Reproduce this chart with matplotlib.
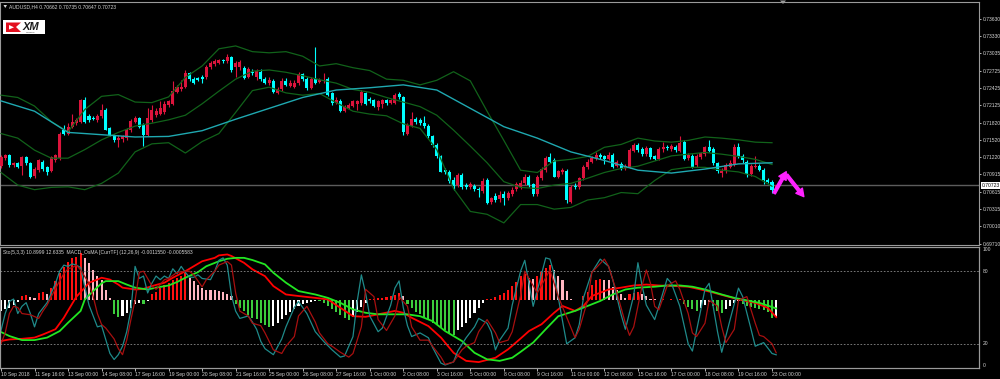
import numpy as np
import matplotlib
matplotlib.use("Agg")
import matplotlib.pyplot as plt
from matplotlib.patches import Rectangle, Polygon, FancyArrowPatch

plt.rcParams['font.family'] = ['Liberation Sans', 'DejaVu Sans']

# ---------------- data ----------------
symbol_title = "AUDUSD,H4 0.70662 0.70735 0.70647 0.70723"
ind_title = "Sto(5,3,3) 10.8999 12.6335  MACD_OsMA [CurrTF] (12,26,9) -0.0011550 -0.0005583"
last_price = 0.70723

opens = [.7106, .7120, .7126, .7108, .7111, .7106, .7122, .7111, .7089, .7099,
         .7113, .7104, .7098, .7117, .7120, .7169, .7162, .7174, .7181, .7184,
         .7222, .7194, .7191, .7187, .7194, .7204, .7172, .7160, .7152, .7153,
         .7155, .7169, .7184, .7190, .7178, .7160, .7187, .7195, .7198, .7201,
         .7213, .7215, .7236, .7240, .7245, .7268, .7258, .7260, .7261, .7261,
         .7279, .7285, .7287, .7292, .7290, .7296, .7280, .7279, .7277, .7262,
         .7271, .7262, .7271, .7258, .7251, .7255, .7234, .7240, .7255, .7246,
         .7245, .7251, .7267, .7258, .7242, .7258, .7253, .7254, .7258, .7233,
         .7217, .7220, .7203, .7208, .7211, .7215, .7216, .7233, .7223, .7222,
         .7210, .7215, .7222, .7217, .7217, .7232, .7226, .7163, .7176, .7188,
         .7187, .7181, .7176, .7158, .7143, .7124, .7099, .7096, .7082, .7073,
         .7091, .7073, .7069, .7071, .7067, .7063, .7082, .7044, .7054, .7048,
         .7058, .7050, .7058, .7066, .7070, .7076, .7088, .7075, .7058, .7085,
         .7099, .7122, .7116, .7088, .7095, .7098, .7044, .7072, .7069, .7085,
         .7104, .7114, .7120, .7126, .7123, .7118, .7126, .7106, .7110, .7102,
         .7105, .7133, .7143, .7136, .7127, .7137, .7123, .7118, .7136, .7139,
         .7136, .7140, .7133, .7148, .7120, .7124, .7108, .7122, .7127, .7140,
         .7136, .7111, .7094, .7097, .7105, .7110, .7139, .7124, .7114, .7092,
         .7104, .7107, .7099, .7082, .7079, .70662]
highs = [.7126, .7128, .7128, .7114, .7114, .7124, .7124, .7114, .7105, .7118,
         .7117, .7106, .7124, .7128, .7166, .7178, .7181, .7197, .7190, .7224,
         .7227, .7197, .7194, .7198, .7215, .7207, .7175, .7163, .7160, .7160,
         .7172, .7188, .7194, .7192, .7181, .7207, .7213, .7207, .7219, .7219,
         .7222, .7254, .7248, .7257, .7274, .7271, .7261, .7262, .7265, .7283,
         .7289, .7293, .7294, .7294, .7302, .7299, .7290, .7292, .7281, .7279,
         .7275, .7275, .7275, .7261, .7261, .7258, .7245, .7260, .7260, .7257,
         .7257, .7271, .7269, .7261, .7261, .7314, .7260, .7268, .7261, .7236,
         .7226, .7223, .7213, .7216, .7222, .7222, .7239, .7236, .7226, .7224,
         .7222, .7224, .7224, .7224, .7233, .7236, .7229, .7181, .7201, .7192,
         .7191, .7194, .7180, .7160, .7146, .7126, .7102, .7099, .7087, .7094,
         .7094, .7076, .7079, .7075, .7070, .7085, .7085, .7053, .7059, .7062,
         .7062, .7063, .7069, .7079, .7082, .7092, .7091, .7077, .7091, .7105,
         .7123, .7129, .7120, .7099, .7102, .7101, .7073, .7076, .7088, .7108,
         .7118, .7124, .7130, .7129, .7126, .7130, .7129, .7117, .7114, .7110,
         .7137, .7146, .7146, .7139, .7141, .7140, .7126, .7139, .7149, .7143,
         .7145, .7143, .7158, .7152, .7129, .7127, .7127, .7131, .7141, .7151,
         .7139, .7114, .7102, .7111, .7116, .7145, .7146, .7127, .7117, .7110,
         .7123, .7110, .7102, .7085, .7082, .70735]
lows = [.7102, .7117, .7105, .7105, .7102, .7091, .7108, .7085, .7085, .7096,
        .7098, .7091, .7095, .7114, .7117, .7160, .7160, .7172, .7178, .7181,
        .7181, .7184, .7186, .7184, .7191, .7169, .7158, .7149, .7140, .7149,
        .7152, .7166, .7181, .7172, .7141, .7158, .7184, .7192, .7195, .7198,
        .7210, .7213, .7233, .7238, .7242, .7255, .7250, .7254, .7252, .7258,
        .7275, .7281, .7285, .7286, .7287, .7271, .7262, .7274, .7258, .7260,
        .7265, .7257, .7255, .7250, .7248, .7233, .7232, .7238, .7246, .7244,
        .7242, .7248, .7255, .7239, .7240, .7250, .7251, .7252, .7229, .7213,
        .7215, .7201, .7201, .7205, .7209, .7204, .7213, .7213, .7216, .7209,
        .7204, .7207, .7213, .7215, .7215, .7223, .7160, .7160, .7174, .7180,
        .7178, .7172, .7155, .7140, .7120, .7095, .7092, .7077, .7064, .7070,
        .7066, .7066, .7066, .7062, .7053, .7060, .7040, .7040, .7044, .7044,
        .7038, .7047, .7054, .7063, .7067, .7073, .7070, .7054, .7054, .7082,
        .7096, .7111, .7087, .7085, .7092, .7041, .7041, .7066, .7066, .7082,
        .7101, .7111, .7117, .7118, .7110, .7116, .7102, .7104, .7099, .7099,
        .7102, .7130, .7131, .7124, .7124, .7118, .7116, .7116, .7131, .7134,
        .7133, .7131, .7130, .7116, .7117, .7102, .7105, .7118, .7124, .7130,
        .7108, .7094, .7087, .7094, .7102, .7106, .7120, .7112, .7087, .7089,
        .7102, .7097, .7075, .7076, .7059, .70647]
closes = [.7122, .7126, .7108, .7112, .7105, .7122, .7111, .7088, .7101, .7116,
          .7101, .7096, .7122, .7126, .7163, .7162, .7174, .7184, .7187, .7222,
          .7184, .7187, .7188, .7194, .7204, .7170, .7160, .7151, .7156, .7158,
          .7169, .7185, .7190, .7175, .7160, .7190, .7204, .7203, .7207, .7215,
          .7219, .7237, .7245, .7245, .7268, .7258, .7252, .7257, .7258, .7279,
          .7286, .7289, .7292, .7289, .7296, .7274, .7287, .7288, .7260, .7276,
          .7268, .7272, .7258, .7252, .7257, .7236, .7240, .7255, .7248, .7252,
          .7252, .7267, .7258, .7242, .7258, .7252, .7257, .7257, .7230, .7216,
          .7222, .7203, .7210, .7213, .7219, .7219, .7236, .7215, .7219, .7211,
          .7219, .7222, .7216, .7222, .7230, .7226, .7165, .7178, .7188, .7183,
          .7181, .7176, .7158, .7143, .7123, .7096, .7095, .7081, .7071, .7091,
          .7069, .7069, .7075, .7066, .7064, .7081, .7042, .7050, .7047, .7056,
          .7050, .7059, .7065, .7075, .7077, .7088, .7073, .7058, .7087, .7101,
          .7120, .7114, .7088, .7097, .7099, .7047, .7070, .7069, .7085, .7105,
          .7114, .7120, .7126, .7122, .7118, .7126, .7105, .7114, .7102, .7106,
          .7134, .7143, .7134, .7127, .7137, .7122, .7118, .7136, .7139, .7137,
          .7141, .7134, .7147, .7118, .7125, .7105, .7124, .7129, .7139, .7133,
          .7111, .7097, .7098, .7108, .7111, .7140, .7123, .7117, .7092, .7106,
          .7107, .7099, .7082, .7079, .7065, .70723]

# Bollinger bands (every 4th bar) and slow moving average (every 8th bar)
band_idx = list(range(0, 185, 4))
bb_upper = [.7230, .7226, .7211, .7184, .7166, .7205, .7228, .7231, .7218, .7217,
            .7227, .7261, .7281, .7311, .7316, .7306, .7304, .7306, .7298, .7281,
            .7285, .7278, .7273, .7258, .7256, .7248, .7256, .7271, .7255, .7202,
            .7151, .7099, .7095, .7115, .7118, .7123, .7139, .7144, .7155, .7150,
            .7148, .7151, .7157, .7155, .7152, .7148, .7147]
bb_middle = [.7163, .7155, .7134, .7120, .7120, .7135, .7152, .7165, .7176, .7181,
             .7187, .7195, .7215, .7237, .7258, .7272, .7274, .7270, .7264, .7257,
             .7251, .7240, .7235, .7226, .7218, .7210, .7195, .7169, .7141, .7112,
             .7079, .7069, .7067, .7073, .7076, .7085, .7095, .7102, .7106, .7115,
             .7124, .7127, .7130, .7127, .7123, .7118, .7109]
bb_lower = [.7095, .7073, .7065, .7069, .7070, .7065, .7076, .7094, .7131, .7145,
            .7147, .7129, .7149, .7163, .7200, .7238, .7244, .7234, .7230, .7233,
            .7217, .7202, .7197, .7194, .7180, .7172, .7135, .7067, .7027, .7022,
            .7007, .7039, .7039, .7031, .7034, .7047, .7051, .7060, .7058, .7081,
            .7100, .7104, .7104, .7099, .7096, .7088, .7071]
ma_idx = list(range(0, 185, 8))
ma_vals = [.7220, .7202, .7165, .7161, .7157, .7158, .7168, .7188, .7207, .7226,
           .7239, .7243, .7248, .7239, .7207, .7175, .7155, .7131, .7116, .7099,
           .7094, .7101, .7110, .7112]

price_ticks = [0.73630, 0.73330, 0.73035, 0.72725, 0.72425, 0.72125, 0.71820,
               0.71520, 0.71220, 0.70915, 0.70615, 0.70315, 0.70010, 0.69710]
price_labels = ["0.73630", "0.73330", "0.73035", "0.72725", "0.72425", "0.72125", "0.71820",
                "0.71520", "0.71220", "0.70915", "0.70615", "0.70315", "0.70010", "0.69710"]

date_labels = ["10 Sep 2018", "11 Sep 16:00", "13 Sep 00:00", "14 Sep 08:00", "17 Sep 16:00",
               "19 Sep 00:00", "20 Sep 08:00", "21 Sep 16:00", "25 Sep 00:00", "26 Sep 08:00",
               "27 Sep 16:00", "1 Oct 00:00", "2 Oct 08:00", "3 Oct 16:00", "5 Oct 00:00",
               "8 Oct 08:00", "9 Oct 16:00", "11 Oct 00:00", "12 Oct 08:00", "15 Oct 16:00",
               "17 Oct 00:00", "18 Oct 08:00", "19 Oct 16:00", "23 Oct 00:00"]
date_bars = list(range(0, 185, 8))

# stochastic (5,3,3)
k_idx = [0, 1, 2, 3, 4, 5, 6, 7, 8, 9, 11, 12, 13, 14, 15, 16, 17, 18, 19, 20,
         21, 22, 23, 24, 26, 27, 28, 29, 30, 31, 32, 33, 34, 35, 36, 37, 38, 39, 40, 41,
         42, 43, 44, 45, 46, 47, 48, 50, 51, 52, 53, 54, 55, 56, 57, 59, 60, 61, 62, 63,
         65, 67, 68, 70, 71, 73, 75, 77, 79, 81, 82, 84, 85, 86, 87, 88, 90, 91, 93, 94,
         95, 96, 97, 98, 100, 102, 103, 105, 106, 108, 109, 111, 113, 114, 116, 117, 118, 119, 121, 122,
         124, 125, 127, 130, 131, 132, 133, 135, 137, 138, 139, 141, 143, 145, 146, 148, 149, 151, 152, 153,
         154, 156, 157, 159, 160, 162, 164, 165, 166, 168, 169, 170, 171, 172, 174, 176, 177, 179, 180, 182,
         184, 185]
k_vals = [31, 45, 55, 57, 45, 51, 54, 45, 34, 45, 54, 62, 70, 80, 85, 84, 86, 85, 83, 67,
          52, 43, 34, 35, 12, 7, 11, 18, 30, 48, 84, 74, 76, 62, 70, 76, 73, 76, 74, 82,
          78, 84, 79, 75, 75, 77, 74, 73, 80, 89, 91, 85, 60, 47, 41, 43, 38, 32, 22, 16,
          11, 24, 34, 50, 55, 45, 30, 22, 15, 9, 10, 26, 55, 77, 62, 43, 30, 33, 52, 66,
          72, 50, 35, 26, 29, 25, 17, 4, 2.5, 5, 14, 25, 34, 41, 37, 30, 15, 23, 33, 52,
          80, 89, 51, 91, 90, 78, 58, 20, 25, 36, 58, 79, 90, 84, 73, 44, 32, 60, 87, 68,
          52, 40, 51, 74, 70, 51, 20, 14, 31, 65, 70, 50, 30, 13, 40, 66, 59, 32, 18, 21,
          12, 10.9]
d_idx = [0, 1, 2, 3, 4, 5, 7, 9, 10, 11, 12, 14, 15, 16, 17, 18, 19, 21, 22, 23,
         24, 25, 27, 28, 29, 30, 31, 32, 33, 34, 36, 37, 38, 39, 40, 42, 44, 45, 46, 48,
         49, 51, 52, 54, 55, 56, 57, 59, 60, 62, 63, 65, 67, 68, 70, 71, 73, 75, 76, 78,
         79, 81, 83, 84, 86, 87, 89, 90, 92, 94, 95, 97, 98, 100, 102, 103, 105, 106, 108, 110,
         111, 113, 114, 116, 118, 119, 121, 122, 124, 125, 128, 131, 133, 137, 138, 140, 141, 144, 145, 147,
         149, 150, 151, 153, 154, 155, 156, 157, 159, 161, 162, 164, 165, 166, 168, 169, 171, 172, 173, 175,
         176, 178, 180, 181, 182, 184, 185]
d_vals = [20, 29, 45, 51, 50, 45, 44, 41, 47, 52, 59, 72, 78, 82, 83, 85, 81, 70, 59, 45,
          36, 33, 24, 16, 11, 23, 40, 56, 79, 80, 68, 65, 69, 73, 74, 79, 80, 80, 77, 67,
          73, 80, 85, 88, 85, 62, 47, 43, 37, 35, 29, 15, 12, 18, 26, 43, 51, 38, 29, 20,
          18, 13, 9, 12, 34, 65, 59, 40, 31, 43, 59, 51, 34, 23, 23, 18, 9, 3, 5, 15,
          18, 21, 30, 40, 29, 21, 23, 30, 60, 80, 62, 81, 59, 25, 32, 56, 79, 90, 84, 62,
          37, 27, 34, 68, 81, 70, 51, 48, 68, 72, 65, 45, 29, 26, 37, 56, 51, 34, 21, 32,
          56, 59, 37, 27, 26, 20, 12.6]

# MACD OsMA histogram (one value per bar) and its two lines
osma = [-0.00036, -0.00029, -0.00026, -0.00018, -0.00008, 0.00012, 0.00016, 0.00010, 0.00006, 0.00023,
        0.00025, 0.00020, 0.00039, 0.00060, 0.00087, 0.00106, 0.00121, 0.00135, 0.00138, 0.00151,
        0.00135, 0.00117, 0.00095, 0.00078, 0.00065, 0.00033, 0.00006, -0.00047, -0.00055, -0.00053,
        -0.00042, -0.00026, -0.00015, -0.00012, -0.00015, -0.00004, 0.00017, 0.00025, 0.00039, 0.00046,
        0.00053, 0.00063, 0.00071, 0.00078, 0.00085, 0.00071, 0.00060, 0.00049, 0.00039, 0.00033,
        0.00032, 0.00030, 0.00028, 0.00025, 0.00020, 0.00012, -0.00015, -0.00026, -0.00036, -0.00050,
        -0.00058, -0.00063, -0.00076, -0.00083, -0.00087, -0.00085, -0.00076, -0.00061, -0.00048, -0.00040,
        -0.00029, -0.00020, -0.00014, -0.00010, -0.00006, -0.00004, -0.00005, -0.00012, -0.00020, -0.00029,
        -0.00039, -0.00048, -0.00058, -0.00065, -0.00055, -0.00038, -0.00024, -0.00010, 0.00003, 0.00004,
        0.00005, 0.00006, 0.00009, 0.00012, 0.00016, 0.00023, 0.00012, -0.00015, -0.00027, -0.00038,
        -0.00047, -0.00057, -0.00065, -0.00074, -0.00083, -0.00091, -0.00099, -0.00106, -0.00115, -0.00098,
        -0.00087, -0.00074, -0.00060, -0.00044, -0.00028, -0.00012, 0.00002, 0.00004, 0.00009, 0.00014,
        0.00023, 0.00032, 0.00044, 0.00057, 0.00076, 0.00082, 0.00071, 0.00068, 0.00078, 0.00091,
        0.00102, 0.00111, 0.00095, 0.00076, 0.00063, 0.00028, 0.00003, -0.00002, -0.00001, 0.00012,
        0.00025, 0.00046, 0.00063, 0.00068, 0.00065, 0.00063, 0.00042, 0.00033, 0.00020, 0.00006,
        0.00017, 0.00023, 0.00025, 0.00019, 0.00012, 0.00003, 0.00001, 0.00000, 0.00001, -0.00001,
        0.00001, -0.00001, 0.00001, -0.00015, -0.00023, -0.00031, -0.00036, -0.00027, -0.00016, -0.00008,
        -0.00020, -0.00036, -0.00042, -0.00031, -0.00020, -0.00012, -0.00005, -0.00015, -0.00020, -0.00023,
        -0.00026, -0.00029, -0.00033, -0.00040, -0.00059, -0.0005583]
red_idx = [0, 2, 5, 8, 10, 13, 15, 16, 18, 20, 21, 23, 24, 26, 28, 29, 32, 34, 36, 39,
           41, 44, 46, 48, 51, 52, 54, 55, 58, 60, 63, 65, 68, 71, 75, 78, 81, 84, 87, 90,
           94, 96, 98, 102, 105, 108, 111, 114, 118, 121, 124, 126, 129, 132, 134, 137, 139, 141, 145, 148,
           151, 154, 157, 161, 164, 167, 170, 173, 176, 180, 183, 185]
red_vals = [-0.00133, -0.00128, -0.00126, -0.00122, -0.00112, -0.00095, -0.00058, -0.00035, 0.00010, 0.00039,
            0.00055, 0.00065, 0.00071, 0.00065, 0.00049, 0.00039, 0.00033, 0.00035, 0.00044, 0.00055,
            0.00071, 0.00092, 0.00108, 0.00124, 0.00135, 0.00143, 0.00146, 0.00141, 0.00119, 0.00098,
            0.00076, 0.00044, 0.00017, 0.00012, 0.00006, 0.00001, -0.00026, -0.00053, -0.00055, -0.00047,
            -0.00036, -0.00042, -0.00058, -0.00085, -0.00122, -0.00171, -0.00197, -0.00201, -0.00187, -0.00160,
            -0.00125, -0.00101, -0.00079, -0.00042, -0.00020, -0.00036, -0.00020, 0.00012, 0.00033, 0.00039,
            0.00046, 0.00049, 0.00046, 0.00044, 0.00042, 0.00033, 0.00023, 0.00012, 0.00001, -0.00010,
            -0.00026, -0.00056]
green_idx = [0, 2, 5, 8, 11, 14, 16, 19, 20, 22, 24, 25, 28, 30, 32, 35, 37, 40, 42, 44,
             47, 49, 52, 54, 56, 58, 60, 63, 65, 68, 71, 75, 78, 81, 84, 87, 90, 94, 97, 100,
             103, 106, 110, 113, 116, 119, 122, 124, 127, 130, 133, 137, 140, 143, 146, 149, 152, 156, 159, 162,
             165, 168, 172, 175, 178, 181, 185]
green_vals = [-0.00104, -0.00117, -0.00130, -0.00130, -0.00122, -0.00101, -0.00074, -0.00036, 0.00001, 0.00028,
              0.00053, 0.00060, 0.00060, 0.00049, 0.00039, 0.00033, 0.00039, 0.00046, 0.00057, 0.00071,
              0.00089, 0.00108, 0.00124, 0.00132, 0.00135, 0.00135, 0.00128, 0.00114, 0.00087, 0.00055,
              0.00028, 0.00017, 0.00006, -0.00010, -0.00031, -0.00042, -0.00047, -0.00047, -0.00047, -0.00053,
              -0.00069, -0.00101, -0.00133, -0.00171, -0.00192, -0.00197, -0.00187, -0.00168, -0.00138, -0.00095,
              -0.00053, -0.00036, -0.00020, -0.00004, 0.00017, 0.00033, 0.00039, 0.00042, 0.00046, 0.00046,
              0.00042, 0.00033, 0.00017, 0.00006, -0.00002, -0.00010, -0.00028]

# the two hand-drawn magenta arrows (bar, price)
arrow_up = [(184.5, 0.70587), (187.4, 0.70964)]
arrow_down = [(187.5, 0.70907), (191.6, 0.70528)]

# ---------------- figure ----------------
W, H = 1000, 379


def fx(px):
    return px / W


def fy(py):
    return 1 - py / H


EDGE = '#9a9a9a'
TXT = '#d4d4d4'
FS = 3.6

fig = plt.figure(figsize=(10, 3.79), dpi=100, facecolor='black')
ax = fig.add_axes([0.0, fy(245), 0.979, (245 - 2) / H])
low = fig.add_axes([0.0, fy(368), 0.979, (368 - 247) / H])
osc = low.twinx()

for a in (ax, low, osc):
    a.set_facecolor('black')
    for s in a.spines.values():
        s.set_color(EDGE)
        s.set_linewidth(0.8)
    a.set_xlim(-0.24, 233.4)

# ---- price panel ----
idx = np.arange(len(closes))
o = np.array(opens)
c = np.array(closes)
hi = np.array(highs)
lo = np.array(lows)
col = np.where(c >= o, '#dc143c', '#00ffff')

ax.axhline(last_price, color='#5c5c5c', lw=1.0, zorder=1)
ax.vlines(idx, lo, hi, colors=col, lw=0.8, zorder=3)
ax.bar(idx, np.maximum(np.abs(c - o), 0.00003), bottom=np.minimum(o, c),
       width=0.72, color=col, linewidth=0, zorder=4)

for band in (bb_upper, bb_middle, bb_lower):
    ax.plot(band_idx, band, color='#11621a', lw=0.9, zorder=5)
ax.plot(ma_idx, ma_vals, color='#1fa8b0', lw=1.0, zorder=5)

for tail, head in (arrow_up, arrow_down):
    ax.add_patch(FancyArrowPatch(tail, head, arrowstyle='simple,head_length=5.5,head_width=6,tail_width=2',
                                 mutation_scale=1, color='#ff22ff', shrinkA=0, shrinkB=0, zorder=6))

ax.set_ylim(0.69684, 0.73927)
ax.tick_params(axis='x', length=0, labelbottom=False)
ax.yaxis.tick_right()
ax.set_yticks(price_ticks)
ax.set_yticklabels(price_labels)
ax.tick_params(axis='y', colors=TXT, labelsize=FS, length=1.5, width=0.6, pad=1.5)
ax.text(1.0025, last_price, "0.70723", transform=ax.get_yaxis_transform(), fontsize=FS,
        color='black', va='center', ha='left', clip_on=False,
        bbox=dict(facecolor='white', edgecolor='none', pad=0.6))

# ---- oscillator panel ----
prev = np.concatenate([[osma[0]], osma[:-1]])
osma_arr = np.array(osma)
hist_col = np.where(osma_arr >= 0,
                    np.where(osma_arr >= prev, '#ff1010', '#ffb6c1'),
                    np.where(osma_arr < prev, '#3ccd3c', '#ffffff'))
osc.bar(idx, osma_arr, width=0.5, color=hist_col, linewidth=0)
osc.plot(red_idx, red_vals, color='#ff0000', lw=1.3)
osc.plot(green_idx, green_vals, color='#22e622', lw=1.3)
osc.set_ylim(-0.00220, 0.00170)
osc.set_yticks([])

low.set_zorder(osc.get_zorder() + 1)
low.patch.set_visible(False)
low.set_ylim(0, 100)
low.axhline(20, color='#8a8a8a', lw=0.6, ls=(0, (2, 2)))
low.axhline(80, color='#8a8a8a', lw=0.6, ls=(0, (2, 2)))
low.plot(k_idx, k_vals, color='#1f8a8a', lw=0.9)
low.plot(d_idx, d_vals, color='#a81010', lw=0.9)

low.yaxis.tick_right()
low.set_yticks([0, 20, 80, 100])
low.set_yticklabels(["0", "20", "80", "100"])
for lab, va in zip(low.get_yticklabels(), ['bottom', 'center', 'center', 'top']):
    lab.set_verticalalignment(va)
low.tick_params(axis='y', colors=TXT, labelsize=FS, length=0, pad=2.5)

low.set_xticks(date_bars)
low.set_xticklabels(date_labels, ha='left')
low.tick_params(axis='x', colors=TXT, labelsize=FS, length=2.2, width=0.6, pad=1)

# ---- titles, logo, markers ----
fig.text(fx(9.3), fy(6.5), symbol_title, fontsize=FS, color=TXT, va='center', ha='left')
fig.add_artist(Polygon([(fx(3.5), fy(5)), (fx(7), fy(5)), (fx(5.25), fy(8))],
                       closed=True, transform=fig.transFigure, facecolor=TXT, edgecolor='none'))
fig.text(fx(3), fy(252.5), ind_title, fontsize=FS, color=TXT, va='center', ha='left')

fig.add_artist(Rectangle((fx(3), fy(34)), fx(42), 14 / H, transform=fig.transFigure,
                         facecolor='white', edgecolor='none'))
fig.add_artist(Polygon([(fx(6), fy(22.5)), (fx(21), fy(22.5)), (fx(16), fy(27)),
                        (fx(21), fy(32)), (fx(6), fy(32))],
                       closed=True, transform=fig.transFigure, facecolor='#e3101f', edgecolor='none'))
fig.add_artist(Polygon([(fx(9), fy(25)), (fx(14), fy(27.3)), (fx(9), fy(29.5))],
                       closed=True, transform=fig.transFigure, facecolor='white', edgecolor='none'))
fig.text(fx(30.5), fy(27), "XM", fontsize=8, fontweight='bold', style='italic',
         color='#1c1c1c', ha='center', va='center')
fig.text(fx(31), fy(32.3), "MEMBER", fontsize=1.6, color='#555555', ha='center', va='center')

fig.add_artist(Polygon([(fx(780), fy(0.5)), (fx(786), fy(0.5)), (fx(783), fy(4))],
                       closed=True, transform=fig.transFigure, facecolor=EDGE, edgecolor='none'))

fig.savefig("out.png", dpi=100, facecolor='black')
